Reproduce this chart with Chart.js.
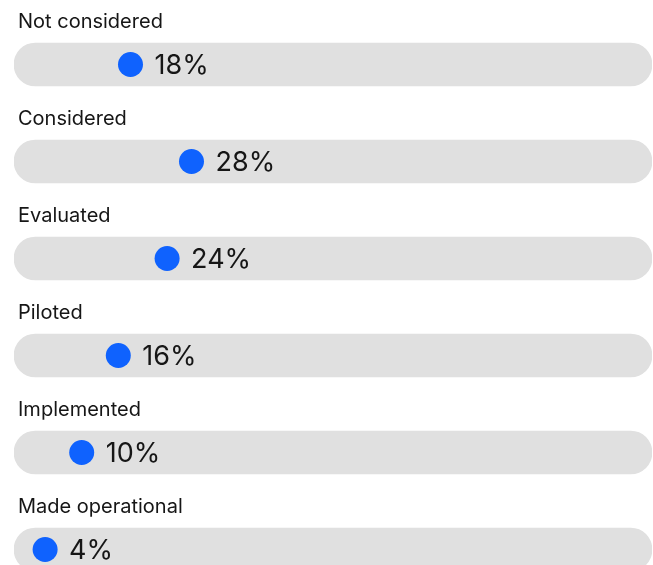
<!DOCTYPE html>
<html>
<head>
	<title>Adoption stages</title>
	<script src="https://cdn.jsdelivr.net/npm/chart.js"></script>
	<style>
		html, body { margin: 0; padding: 0; background: #fff; overflow: hidden; }
		.chart-container { position: relative; width: 653px; height: 565px; overflow: hidden; }
	</style>
</head>
<body>
	<div class="chart-container">
		<canvas id="myChart" width="653" height="598"></canvas>
	</div>
	<script>
		// categories and values
		const stages = ['Not considered', 'Considered', 'Evaluated', 'Piloted', 'Implemented', 'Made operational'];
		const shares = [18, 28, 24, 16, 10, 4];
		const trackRange = [-1.1, 103.5];

		// draws stage names above each track and the percent next to each dot
		const labelPlugin = {
			id: 'stageLabels',
			afterDatasetsDraw(chart) {
				const ctx = chart.ctx;
				const x = chart.scales.x;
				const y = chart.scales.y;
				ctx.save();
				ctx.fillStyle = '#161616';
				ctx.textAlign = 'left';
				ctx.textBaseline = 'alphabetic';
				stages.forEach((name, i) => {
					const cy = y.getPixelForValue(i);
					ctx.font = '20px Inter';
					ctx.fillText(name, 18, cy - 36.5);
					ctx.font = '27px Inter';
					ctx.fillText(shares[i] + '%', x.getPixelForValue(shares[i]) + 24, cy + 9);
				});
				ctx.restore();
			}
		};

		const ctx = document.getElementById('myChart').getContext('2d');
		const myChart = new Chart(ctx, {
			type: 'bar',
			data: {
				labels: stages,
				datasets: [{
					type: 'scatter',
					data: shares.map((v, i) => ({x: v, y: stages[i]})),
					backgroundColor: '#0f62fe',
					borderWidth: 0,
					pointRadius: 12.5,
					pointHoverRadius: 12.5,
					order: 0
				}, {
					type: 'bar',
					data: stages.map(() => trackRange),
					backgroundColor: '#e0e0e0',
					barThickness: 43,
					borderRadius: 22,
					borderSkipped: false,
					order: 1
				}]
			},
			options: {
				indexAxis: 'y',
				responsive: false,
				animation: false,
				layout: { autoPadding: false, padding: { top: 16, bottom: 0, left: 14, right: 1 } },
				plugins: { legend: { display: false }, tooltip: { enabled: false } },
				scales: {
					x: { type: 'linear', min: trackRange[0], max: trackRange[1], display: false },
					y: { type: 'category', display: false, offset: true }
				}
			},
			plugins: [labelPlugin]
		});
	</script>
</body>
</html>
